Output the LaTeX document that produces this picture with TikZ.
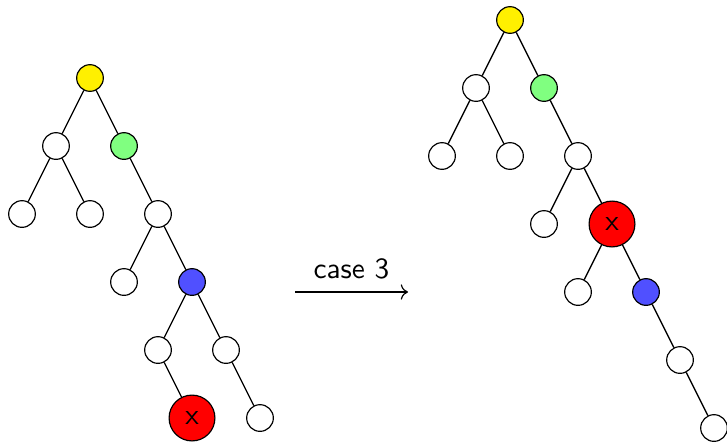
\documentclass[tikz,border=0pt]{standalone}
\usepackage{tikz}
\usetikzlibrary{positioning, arrows.meta}
\definecolor{rootcolor}{RGB}{255, 240, 0}
\definecolor{parentcolor}{RGB}{128, 255, 128}
\definecolor{siblingcolor}{RGB}{80, 80, 255}
\definecolor{hitcolor}{RGB}{255, 0, 0}

\begin{document}
\begin{tikzpicture}[
    x=1cm, y=1cm,
    node distance=0.816cm and 0.408cm, on grid,
    vertex/.style={circle, draw, fill=white, minimum size=0.32cm, inner sep=0pt},
    hit/.style={vertex, fill=hitcolor, minimum size=0.55cm, font=\sffamily},
    link/.style={draw, line width=0.45pt},
    arrow/.style={->, line width=0.4pt},
    tag/.style={font=\sffamily},
]
\useasboundingbox (0,0) rectangle (8.724,-5.304);

% ============ HEADING (cut at the top) ============
\node[tag, anchor=base west, inner sep=0pt] (heading) at (0.072,0.09) {splay(x)};

% ============ TREE BEFORE ============
\node[vertex, fill=rootcolor] (l0) at (1.08,-0.936) {};
\node[vertex, below left=of l0] (l1) {};
\node[vertex, fill=parentcolor, below right=of l0] (l2) {};
\node[vertex, below left=of l1] (l3) {};
\node[vertex, below right=of l1] (l4) {};
\node[vertex, below right=of l2] (l5) {};
\node[vertex, below left=of l5] (l6) {};
\node[vertex, fill=siblingcolor, below right=of l5] (l7) {};
\node[vertex, below left=of l7] (l8) {};
\node[vertex, below right=of l7] (l9) {};
\node[hit, below right=of l8] (l10) {x};
\node[vertex, below right=of l9] (l11) {};

% ============ TREE AFTER ============
\node[vertex, fill=rootcolor] (r0) at (6.12,-0.24) {};
\node[vertex, below left=of r0] (r1) {};
\node[vertex, fill=parentcolor, below right=of r0] (r2) {};
\node[vertex, below left=of r1] (r3) {};
\node[vertex, below right=of r1] (r4) {};
\node[vertex, below right=of r2] (r5) {};
\node[vertex, below left=of r5] (r6) {};
\node[hit, below right=of r5] (r7) {x};
\node[vertex, below left=of r7] (r8) {};
\node[vertex, fill=siblingcolor, below right=of r7] (r9) {};
\node[vertex, below right=of r9] (r10) {};
\node[vertex, below right=of r10] (r11) {};

% ============ EDGES ============
\foreach \a/\b in {l0/l1, l0/l2, l1/l3, l1/l4, l2/l5, l5/l6, l5/l7,
                   l7/l8, l7/l9, l8/l10, l9/l11,
                   r0/r1, r0/r2, r1/r3, r1/r4, r2/r5, r5/r6, r5/r7,
                   r7/r8, r7/r9, r9/r10, r10/r11}
    \draw[link] (\a) -- (\b);

% ============ ROTATION ARROW ============
\coordinate (from) at (3.54,-3.504);
\coordinate (to) at (4.896,-3.504);
\draw[arrow] (from) -- node[tag, above=1pt] (case) {case 3} (to);

\end{tikzpicture}
\end{document}
